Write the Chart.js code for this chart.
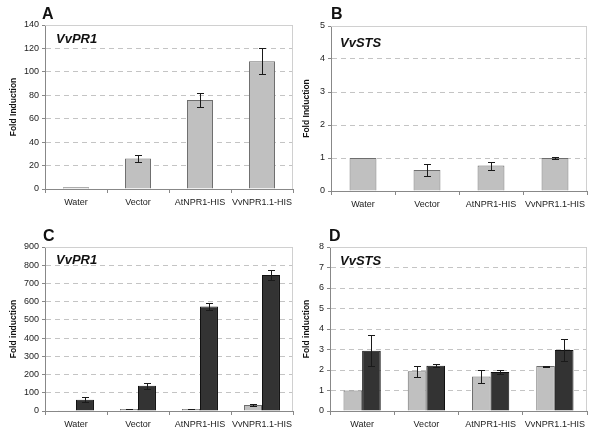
<!DOCTYPE html>
<html>
<head>
<meta charset="utf-8">
<script src="https://cdn.jsdelivr.net/npm/chart.js@4/dist/chart.umd.min.js"></script>
<style>
  body { margin: 0; background: #fff; }
  #wrap { position: relative; width: 600px; height: 445px; font-family: "Liberation Sans", Arial, sans-serif; }
  canvas { position: absolute; }
  .letter { position: absolute; font-weight: bold; font-size: 16px; line-height: 16px; color: #111; }
  .gene { position: absolute; font-weight: bold; font-style: italic; font-size: 13px; line-height: 13px; color: #111; }
</style>
</head>
<body>
<div id="wrap">
  <canvas id="cA" width="300" height="222" style="left:0;top:0"></canvas>
  <canvas id="cB" width="300" height="222" style="left:300px;top:0"></canvas>
  <canvas id="cC" width="300" height="223" style="left:0;top:222px"></canvas>
  <canvas id="cD" width="300" height="223" style="left:300px;top:222px"></canvas>
  <div class="letter" style="left:42px;top:6px">A</div>
  <div class="letter" style="left:331px;top:6px">B</div>
  <div class="letter" style="left:43px;top:228px">C</div>
  <div class="letter" style="left:329px;top:228px">D</div>
  <div class="gene" style="left:56px;top:32px">VvPR1</div>
  <div class="gene" style="left:340px;top:36px">VvSTS</div>
  <div class="gene" style="left:56px;top:253px">VvPR1</div>
  <div class="gene" style="left:340px;top:254px">VvSTS</div>
</div>
<script>
const categories = ["Water", "Vector", "AtNPR1-HIS", "VvNPR1.1-HIS"];

// panel A - VvPR1
const prA = [1.4, 26, 76, 109];
const prAErr = [0, 3, 6, 11];
// panel B - VvSTS
const stsB = [1.0, 0.64, 0.77, 1.0];
const stsBErr = [0, 0.19, 0.12, 0.02];
// panel C - VvPR1, two series
const prCLight = [1, 11, 11, 33];
const prCLightErr = [0, 2, 2, 8];
const prCDark = [62, 138, 573, 746];
const prCDarkErr = [13, 16, 19, 27];
// panel D - VvSTS, two series
const stsDLight = [1.0, 1.94, 1.68, 2.19];
const stsDLightErr = [0, 0.26, 0.31, 0.02];
const stsDDark = [2.94, 2.21, 1.9, 2.97];
const stsDDarkErr = [0.75, 0.08, 0.1, 0.54];

const LIGHT = "#c0c0c0", LIGHT_EDGE = "#6e6e6e";
const DARK = "#333333", DARK_EDGE = "#111111";
const FONT = "'Liberation Sans', Arial, sans-serif";

const errorBars = {
  id: "errorBars",
  afterDatasetsDraw(chart) {
    const ctx = chart.ctx, y = chart.scales.y;
    ctx.save();
    ctx.strokeStyle = "#1a1a1a";
    ctx.lineWidth = 1;
    chart.data.datasets.forEach((ds, i) => {
      chart.getDatasetMeta(i).data.forEach((bar, j) => {
        const e = ds.err[j];
        if (!e) return;
        const v = ds.data[j];
        const t = Math.round(y.getPixelForValue(v + e)) + 0.5;
        const b = Math.round(y.getPixelForValue(v - e)) + 0.5;
        const x = Math.round(bar.x) + 0.5;
        ctx.beginPath();
        ctx.moveTo(x, t); ctx.lineTo(x, b);
        ctx.moveTo(x - 3.5, t); ctx.lineTo(x + 3.5, t);
        ctx.moveTo(x - 3.5, b); ctx.lineTo(x + 3.5, b);
        ctx.stroke();
      });
    });
    ctx.restore();
  }
};

const frame = {
  id: "frame",
  beforeDatasetsDraw(chart) {
    const { ctx, chartArea: a } = chart;
    ctx.save();
    ctx.strokeStyle = "#d0d0d0";
    ctx.lineWidth = 1;
    ctx.beginPath();
    ctx.moveTo(a.left, a.top + 0.5);
    ctx.lineTo(a.right - 0.5, a.top + 0.5);
    ctx.lineTo(a.right - 0.5, a.bottom);
    ctx.stroke();
    ctx.restore();
  }
};

function makeChart(id, datasets, max, step, title, yWidth, titlePad, pad, catPct, barPct) {
  return new Chart(document.getElementById(id), {
    type: "bar",
    data: { labels: categories, datasets: datasets },
    options: {
      responsive: false,
      devicePixelRatio: 1,
      animation: false,
      layout: { padding: pad },
      plugins: { legend: { display: false }, tooltip: { enabled: false } },
      datasets: { bar: { categoryPercentage: catPct, barPercentage: barPct, borderWidth: 1 } },
      scales: {
        x: {
          afterFit: s => { s.height = 26; },
          grid: { offset: true, drawOnChartArea: false, tickLength: 4, color: "#888" },
          border: { color: "#888" },
          ticks: { color: "#222", font: { family: FONT, size: 9 }, padding: 4, maxRotation: 0, autoSkip: false }
        },
        y: {
          min: 0, max: max,
          afterFit: s => { s.width = yWidth; },
          grid: { color: "#c4c4c4", tickLength: 3, tickColor: "#888", tickBorderDash: [] },
          border: { color: "#888", dash: [5, 4] },
          ticks: { stepSize: step, color: "#222", font: { family: FONT, size: 9 }, padding: 3 },
          title: { display: true, text: title, color: "#111", font: { family: FONT, size: 8.5, weight: "bold" }, padding: { top: titlePad, bottom: 0 } }
        }
      }
    },
    plugins: [frame, errorBars]
  });
}

function lightSet(data, err) {
  return { data: data, err: err, backgroundColor: LIGHT, borderColor: LIGHT_EDGE };
}
function darkSet(data, err) {
  return { data: data, err: err, backgroundColor: DARK, borderColor: DARK_EDGE };
}

makeChart("cA", [lightSet(prA, prAErr)], 140, 20, "Fold Induction", 45, 9,
  { top: 25, right: 7, bottom: 7, left: 0 }, 1, 0.42);
makeChart("cB", [lightSet(stsB, stsBErr)], 5, 1, "Fold Induction", 31, 2,
  { top: 26, right: 13, bottom: 5, left: 0 }, 1, 0.42);
makeChart("cC", [lightSet(prCLight, prCLightErr), darkSet(prCDark, prCDarkErr)], 900, 100, "Fold induction", 45, 9,
  { top: 25, right: 7, bottom: 8, left: 0 }, 0.58, 1);
makeChart("cD", [lightSet(stsDLight, stsDLightErr), darkSet(stsDDark, stsDDarkErr)], 8, 1, "Fold induction", 30, 2,
  { top: 25, right: 13, bottom: 8, left: 0 }, 0.58, 1);
</script>
</body>
</html>
